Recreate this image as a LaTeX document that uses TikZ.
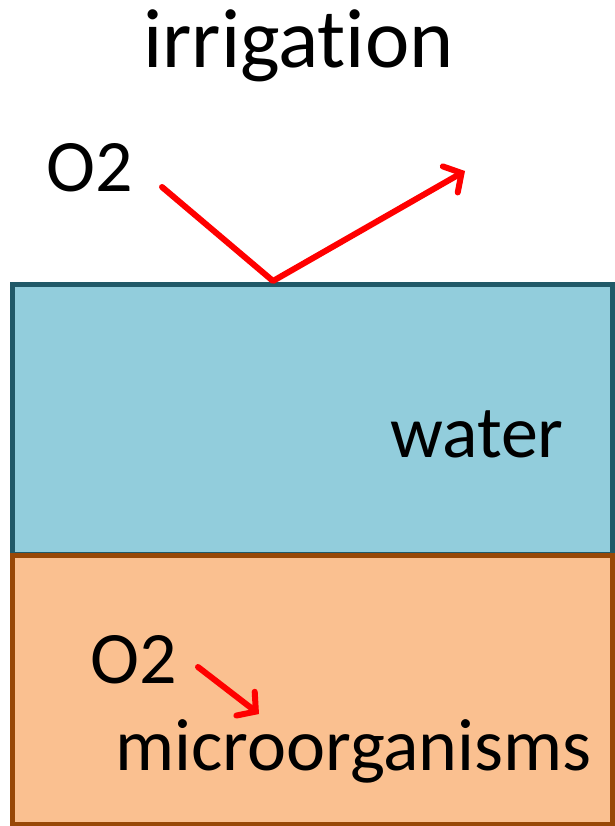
\documentclass[tikz,border=0pt]{standalone}
\usepackage{fontspec}
\setmainfont{Carlito}[RawFeature={-liga;-dlig;-clig}]
\usetikzlibrary{arrows.meta}
\definecolor{waterfill}{HTML}{92CDDC}
\definecolor{waterline}{HTML}{215968}
\definecolor{soilfill}{HTML}{FAC090}
\definecolor{soilline}{HTML}{984807}
\definecolor{arrowred}{HTML}{FF0000}
\tikzset{
  lbl/.style={inner sep=0pt, anchor=base west, font=\fontsize{74}{80}\selectfont},
  biglbl/.style={inner sep=0pt, anchor=base west, font=\fontsize{84}{90}\selectfont},
  redarrow/.style={draw=arrowred, line width=6pt, line cap=round, line join=round,
    -{Straight Barb[length=13pt,width=30pt,line cap=round]}}
}
\begin{document}
\begin{tikzpicture}[x=1pt,y=-1pt]
\useasboundingbox (0,0) rectangle (614,826);
% layers
\draw[fill=waterfill, draw=waterline, line width=5pt] (12.5,284) rectangle (612,554);
\draw[fill=soilfill, draw=soilline, line width=5pt] (12.5,555) rectangle (612,824);
% texts
\node[biglbl] (irr) at (143,68) {irrigation};
\node[lbl] (o2top) at (46,192) {O2};
\node[lbl] (water) at (390,457) {water};
\node[lbl] (o2bot) at (90,683) {O2};
\node[lbl] (micro) at (115,770) {microorganisms};
% arrow points
\coordinate (a1) at (162,187);
\coordinate (a2) at (273,281);
\coordinate (a3) at (465,171);
\coordinate (b1) at (198,667);
\coordinate (b2) at (259,714);
\draw[redarrow] (a1) -- (a2) -- (a3);
\draw[redarrow] (b1) -- (b2);
\end{tikzpicture}
\end{document}
